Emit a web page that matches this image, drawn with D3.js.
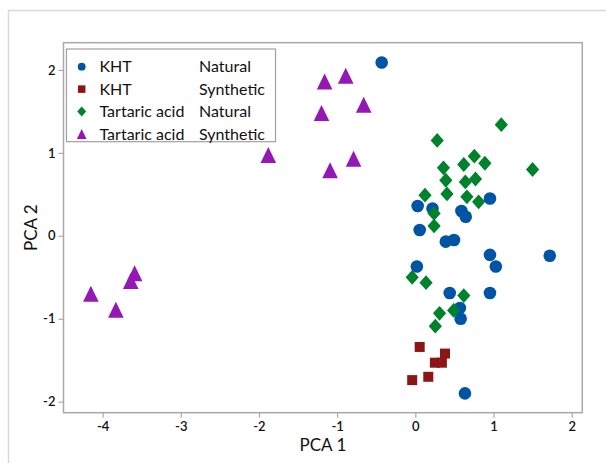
<!DOCTYPE html>
<html>
<head>
<meta charset="utf-8">
<script src="https://cdn.jsdelivr.net/npm/d3@7"></script>
<style>
  html, body { margin: 0; padding: 0; background: #ffffff; }
  svg { display: block; }
  text { font-family: "Lato", "Open Sans", sans-serif; fill: #111; }
</style>
</head>
<body>
<svg id="chart" width="606" height="463"></svg>
<script>
// ---- data (PCA 1, PCA 2) ----
const khtNatural = [
  [-0.43, 2.09], [0.955, 0.45], [0.03, 0.36], [0.22, 0.33], [0.59, 0.30],
  [0.645, 0.23], [0.056, 0.07], [0.39, -0.07], [0.495, -0.05], [0.955, -0.23],
  [1.03, -0.37], [1.72, -0.24], [0.02, -0.37], [0.44, -0.69], [0.955, -0.69],
  [0.57, -0.87], [0.58, -1.00], [0.635, -1.90]
];
const khtSynthetic = [
  [0.056, -1.34], [0.38, -1.42], [0.25, -1.53], [0.34, -1.53], [0.166, -1.70], [-0.04, -1.74]
];
const tartaricNatural = [
  [1.10, 1.34], [0.28, 1.15], [1.50, 0.80], [0.755, 0.96], [0.62, 0.86],
  [0.89, 0.875], [0.36, 0.82], [0.39, 0.67], [0.64, 0.65], [0.77, 0.685],
  [0.405, 0.505], [0.66, 0.47], [0.124, 0.49], [0.81, 0.41], [0.24, 0.27],
  [0.24, 0.12], [-0.04, -0.50], [0.137, -0.565], [0.62, -0.72], [0.31, -0.935],
  [0.49, -0.90], [0.256, -1.09]
];
const tartaricSynthetic = [
  [-1.16, 1.86], [-0.89, 1.93], [-0.66, 1.58], [-1.20, 1.48], [-1.88, 0.975],
  [-0.79, 0.93], [-1.09, 0.79], [-3.59, -0.45], [-3.64, -0.545], [-4.15, -0.70],
  [-3.83, -0.89]
];
const xTicks = [-4, -3, -2, -1, 0, 1, 2];
const yTicks = [-2, -1, 0, 1, 2];
const legendMaterial = ["KHT", "KHT", "Tartaric acid", "Tartaric acid"];
const legendSource = ["Natural", "Synthetic", "Natural", "Synthetic"];

// ---- layout ----
const svg = d3.select("#chart");
const L = 63.5, R = 582.3, T = 42.7, B = 412.7;
const x = d3.scaleLinear().domain([-4.5, 2.136]).range([L, R]);
const y = d3.scaleLinear().domain([-2.133, 2.329]).range([B, T]);

const colors = ["#0054a6", "#8c1515", "#00812b", "#9418b4"];

// outer frame
svg.append("rect").attr("x", 8.5).attr("y", 10.5).attr("width", 700).attr("height", 600)
  .attr("fill", "none").attr("stroke", "#d9d9d9").attr("stroke-width", 1.5);

// plot box
svg.append("rect").attr("x", L).attr("y", T).attr("width", R - L).attr("height", B - T)
  .attr("fill", "#fff").attr("stroke", "#a9a9a9").attr("stroke-width", 1.5);

// axes
const xAxis = d3.axisBottom(x).tickValues(xTicks).tickSize(5).tickPadding(4).tickFormat(d3.format("d"));
const yAxis = d3.axisLeft(y).tickValues(yTicks).tickSize(5).tickPadding(3).tickFormat(d3.format("d"));
const gx = svg.append("g").attr("transform", `translate(0,${B})`).call(xAxis);
const gy = svg.append("g").attr("transform", `translate(${L},0)`).call(yAxis);
[gx, gy].forEach(g => {
  g.select(".domain").remove();
  g.selectAll(".tick line").attr("stroke", "#a9a9a9").attr("stroke-width", 1.2);
  g.selectAll(".tick text").attr("font-size", 13).attr("fill", "#111")
    .attr("font-family", "Lato, sans-serif").attr("font-weight", 600);
});
gx.selectAll(".tick text").text(d => d < 0 ? "-" + Math.abs(d) : d);
gy.selectAll(".tick text").text(d => d < 0 ? "-" + Math.abs(d) : d);

// axis titles
svg.append("text").attr("x", (L + R) / 2).attr("y", 451).attr("text-anchor", "middle")
  .attr("font-size", 17).text("PCA 1");
svg.append("text").attr("transform", `translate(37,${(T + B) / 2}) rotate(-90)`)
  .attr("text-anchor", "middle").attr("font-size", 17).text("PCA 2");

// marker shapes
function circlePath(s) { const r = 6.3 * s; return `M${-r},0A${r},${r} 0 1,0 ${r},0A${r},${r} 0 1,0 ${-r},0Z`; }
function squarePath(s) { const h = 5 * s; return `M${-h},${-h}H${h}V${h}H${-h}Z`; }
function diamondPath(s) { const w = 6.6 * s, h = 7.4 * s; return `M0,${-h}L${w},0L0,${h}L${-w},0Z`; }
function trianglePath(s) { const w = 7.8 * s, h = 8 * s; return `M0,${-h}L${w},${h}L${-w},${h}Z`; }
const shapes = [circlePath, squarePath, diamondPath, trianglePath];
const series = [khtNatural, khtSynthetic, tartaricNatural, tartaricSynthetic];

series.forEach((data, i) => {
  svg.append("g").selectAll("path").data(data).join("path")
    .attr("transform", d => `translate(${x(d[0])},${y(d[1])})`)
    .attr("d", shapes[i](1))
    .attr("fill", colors[i]);
});

// legend
const lg = svg.append("g");
lg.append("rect").attr("x", 66.5).attr("y", 49).attr("width", 209).attr("height", 92.7)
  .attr("fill", "#fff").attr("stroke", "#a0a0a0").attr("stroke-width", 1.2);
const rowY = d3.scaleLinear().domain([0, 3]).range([66.7, 134]);
legendMaterial.forEach((m, i) => {
  const cy = rowY(i);
  const sc = [0.62, 0.75, 0.68, 0.62][i];
  lg.append("path").attr("transform", `translate(81.7,${cy})`).attr("d", shapes[i](sc)).attr("fill", colors[i]);
  lg.append("text").attr("x", 99.5).attr("y", cy).attr("dy", "0.36em").attr("font-size", 16).text(m);
  lg.append("text").attr("x", 199).attr("y", cy).attr("dy", "0.36em").attr("font-size", 16).text(legendSource[i]);
});
</script>
</body>
</html>
